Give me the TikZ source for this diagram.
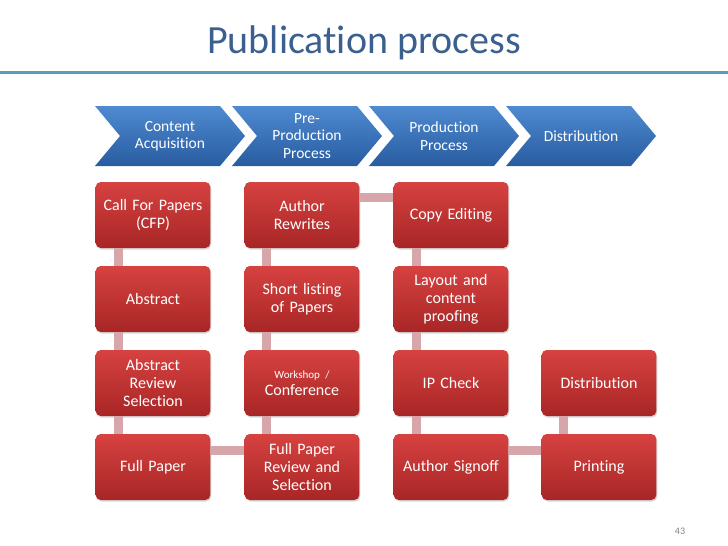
\documentclass[tikz,border=0pt]{standalone}
\usepackage{fontspec}
\setmainfont{Carlito}[Ligatures=NoCommon]
\usetikzlibrary{shadows}

\definecolor{titelblau}{RGB}{59,96,143}
\definecolor{trennlinie}{RGB}{86,160,182}
\definecolor{chevoben}{RGB}{79,138,208}
\definecolor{chevunten}{RGB}{40,92,160}
\definecolor{boxoben}{RGB}{214,66,64}
\definecolor{boxunten}{RGB}{168,38,38}
\definecolor{balkenfarbe}{RGB}{214,166,170}

\begin{document}
\begin{tikzpicture}[x=1pt,y=-1pt,
    schritt/.style={rectangle,rounded corners=5pt,top color=boxoben,bottom color=boxunten,
      minimum width=112pt,minimum height=66pt,text width=108pt,align=center,text=white,
      font=\fontsize{16}{18}\selectfont,
      drop shadow={opacity=0.3,shadow xshift=1pt,shadow yshift=-1.5pt}},
    phase/.style={text width=100pt,align=center,text=white,font=\fontsize{15.5}{17.5}\selectfont},
    balken/.style={line width=9pt,draw=balkenfarbe}]

        % =========================================================
        % SKALIERUNG: 1pt = 1 Pixel, Seite 728 x 546
        % =========================================================
        \useasboundingbox (0,0) rectangle (728,546);

        % Titel + Trennlinie
        \node[anchor=base,text=titelblau,font=\fontsize{40}{44}\selectfont] (titel) at (364,53) {Publication process};
        \draw[line width=3pt,trennlinie] (0,72) -- (728,72);

        % ---------------------------------------------------------
        % Phasen (Pfeile oben)
        % ---------------------------------------------------------
        \foreach \i/\txt in {0/{Content\\Acquisition},1/{Pre-\\Production\\Process},2/{Production\\Process},3/{Distribution}} {
            \pgfmathsetmacro{\xl}{95+137*\i}
            \shade[top color=chevoben,bottom color=chevunten]
            (\xl,106) -- ++(125,0) -- ++(25,30) -- ++(-25,30) -- ++(-125,0) -- ++(25,-30) -- cycle;
            \node[phase] (phase\i) at (\xl+75,136) {\txt};
        }

        % ---------------------------------------------------------
        % Spalte 1: Content Acquisition
        % ---------------------------------------------------------
        \node[schritt] (cfp) at (153,215) {Call For Papers\\(CFP)};
        \node[schritt] (abs) at (153,299) {Abstract};
        \node[schritt] (absrev) at (153,383) {Abstract\\Review\\Selection};
        \node[schritt] (full) at (153,467) {Full Paper};

        % ---------------------------------------------------------
        % Spalte 2: Pre-Production
        % ---------------------------------------------------------
        \node[schritt] (rewrite) at (302,215) {Author\\Rewrites};
        \node[schritt] (short) at (302,299) {Short listing\\of Papers};
        \node[schritt] (workshop) at (302,383) {{\fontsize{11}{14}\selectfont Workshop /}\\[-1pt]Conference};
        \node[schritt] (fullrev) at (302,467) {Full Paper\\Review and\\Selection};

        % ---------------------------------------------------------
        % Spalte 3: Production
        % ---------------------------------------------------------
        \node[schritt] (copy) at (451,215) {Copy Editing};
        \node[schritt] (layout) at (451,299) {Layout and\\content\\proofing};
        \node[schritt] (ipcheck) at (451,383) {IP Check};
        \node[schritt] (signoff) at (451,467) {Author Signoff};

        % ---------------------------------------------------------
        % Spalte 4: Distribution
        % ---------------------------------------------------------
        \node[schritt] (distr) at (599,383) {Distribution};
        \node[schritt] (print) at (599,467) {Printing};

        % Verbindungsbalken
        \draw[balken] ([xshift=23pt]cfp.south west) -- ([xshift=23pt]abs.north west);
        \draw[balken] ([xshift=23pt]abs.south west) -- ([xshift=23pt]absrev.north west);
        \draw[balken] ([xshift=23pt]absrev.south west) -- ([xshift=23pt]full.north west);
        \draw[balken] ([yshift=-17pt]full.north east) -- ([yshift=-17pt]fullrev.north west);
        \draw[balken] ([xshift=22pt]fullrev.north west) -- ([xshift=22pt]workshop.south west);
        \draw[balken] ([xshift=22pt]workshop.north west) -- ([xshift=22pt]short.south west);
        \draw[balken] ([xshift=22pt]short.north west) -- ([xshift=22pt]rewrite.south west);
        \draw[balken] ([yshift=-16pt]rewrite.north east) -- ([yshift=-16pt]copy.north west);
        \draw[balken] ([xshift=23pt]copy.south west) -- ([xshift=23pt]layout.north west);
        \draw[balken] ([xshift=23pt]layout.south west) -- ([xshift=23pt]ipcheck.north west);
        \draw[balken] ([xshift=23pt]ipcheck.south west) -- ([xshift=23pt]signoff.north west);
        \draw[balken] ([yshift=-17pt]signoff.north east) -- ([yshift=-17pt]print.north west);
        \draw[balken] ([xshift=22pt]print.north west) -- ([xshift=22pt]distr.south west);

        % Seitenzahl
        \node[text=gray,font=\fontsize{10}{12}\selectfont] (seite) at (680,531) {43};

\end{tikzpicture}
\end{document}
